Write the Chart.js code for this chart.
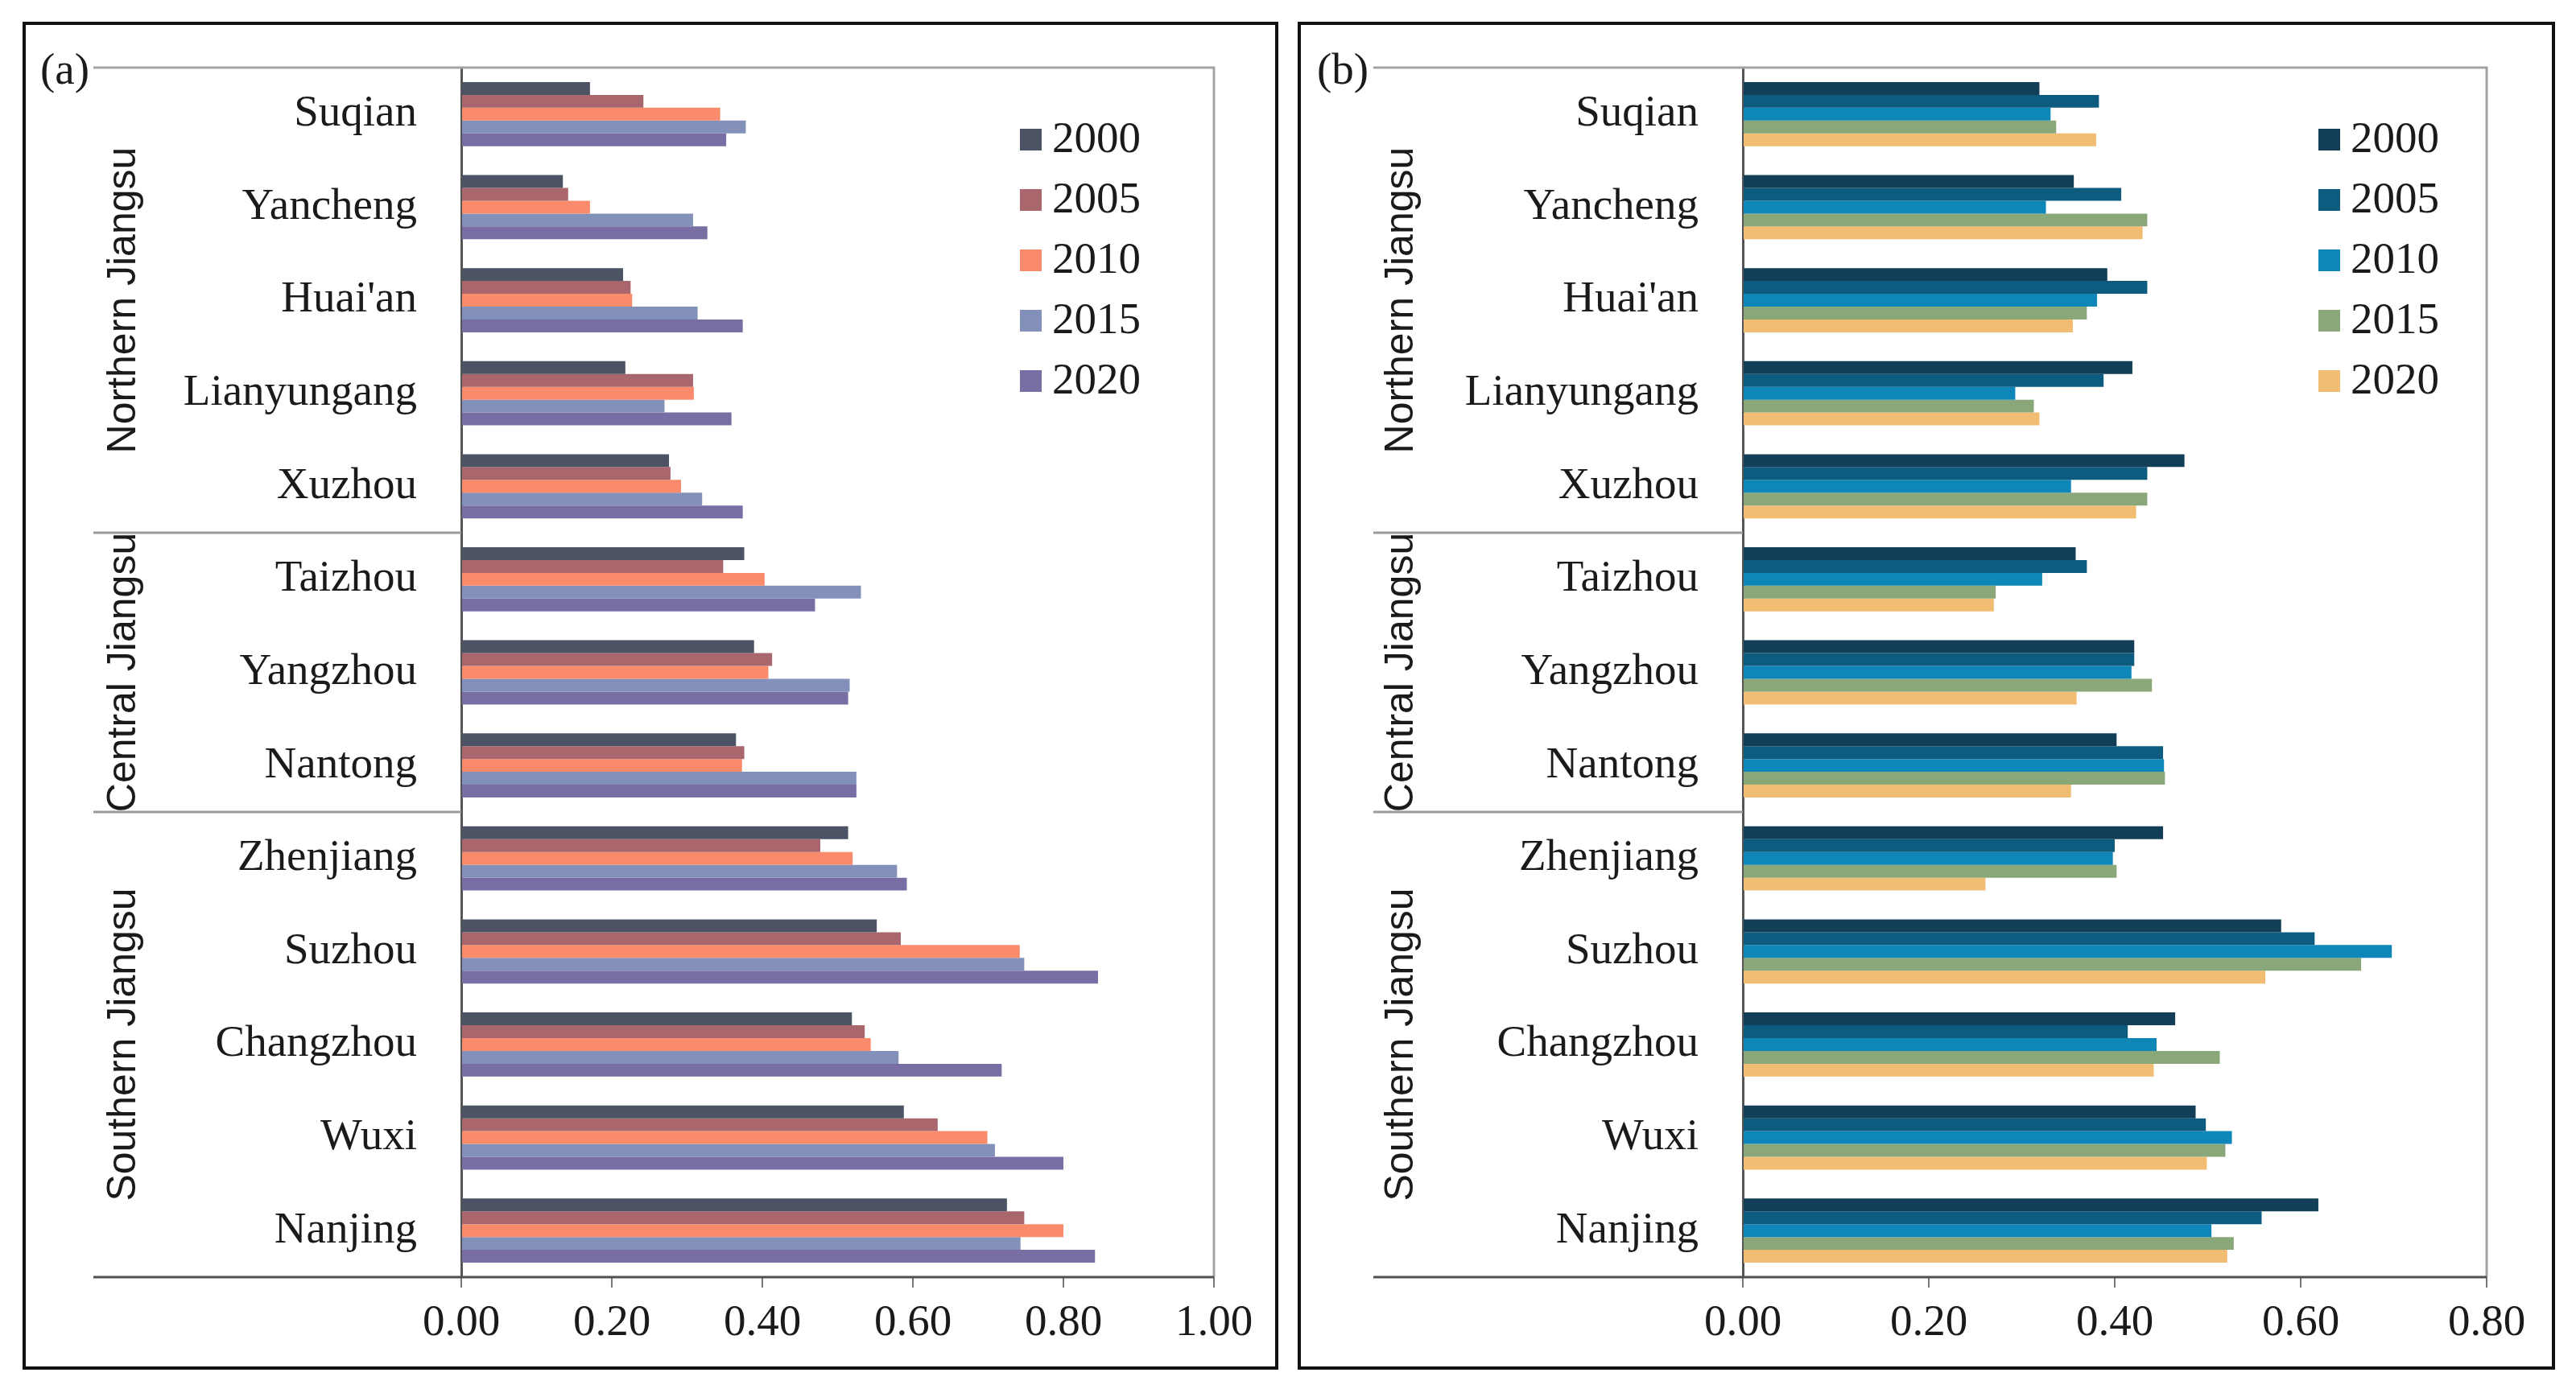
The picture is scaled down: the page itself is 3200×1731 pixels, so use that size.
<!DOCTYPE html>
<html lang="en">
<head>
  <meta charset="UTF-8">
  <title>Jiangsu cities</title>
  <script src="https://cdn.jsdelivr.net/npm/chart.js"></script>
  <style>
    html, body { margin: 0; padding: 0; background: #fff; }
    body { width: 3200px; height: 1731px; position: relative; overflow: hidden; }
    .panel { position: absolute; border: 4px solid #111; box-sizing: border-box; background: #fff; overflow: hidden; }
    #panelA { left: 28px; top: 27px; width: 1560px; height: 1675px; }
    #panelB { left: 1612px; top: 27px; width: 1562px; height: 1675px; }
    .panel canvas { display: block; }
  </style>
</head>
<body>
  <div class="panel" id="panelA"><canvas id="chartA"></canvas></div>
  <div class="panel" id="panelB"><canvas id="chartB"></canvas></div>

<script>
// categories, top to bottom
const cities = ['Suqian', 'Yancheng', "Huai'an", 'Lianyungang', 'Xuzhou',
  'Taizhou', 'Yangzhou', 'Nantong',
  'Zhenjiang', 'Suzhou', 'Changzhou', 'Wuxi', 'Nanjing'];
const years = ['2000', '2005', '2010', '2015', '2020'];
const regions = ['Northern Jiangsu', 'Central Jiangsu', 'Southern Jiangsu'];
const regionSizes = [5, 3, 5];

// panel (a)
const a2000 = [0.171, 0.135, 0.215, 0.218, 0.276, 0.376, 0.389, 0.365, 0.514, 0.552, 0.519, 0.588, 0.725];
const a2005 = [0.242, 0.142, 0.225, 0.308, 0.278, 0.348, 0.413, 0.376, 0.477, 0.584, 0.536, 0.633, 0.748];
const a2010 = [0.344, 0.171, 0.227, 0.309, 0.292, 0.403, 0.408, 0.373, 0.520, 0.742, 0.544, 0.699, 0.800];
const a2015 = [0.378, 0.308, 0.314, 0.270, 0.320, 0.531, 0.516, 0.525, 0.579, 0.748, 0.581, 0.709, 0.743];
const a2020 = [0.352, 0.327, 0.374, 0.359, 0.374, 0.470, 0.514, 0.525, 0.592, 0.846, 0.718, 0.800, 0.842];

// panel (b)
const b2000 = [0.319, 0.356, 0.392, 0.419, 0.475, 0.358, 0.421, 0.402, 0.452, 0.579, 0.465, 0.487, 0.619];
const b2005 = [0.383, 0.407, 0.435, 0.388, 0.435, 0.370, 0.421, 0.452, 0.400, 0.615, 0.414, 0.498, 0.558];
const b2010 = [0.331, 0.326, 0.381, 0.293, 0.353, 0.322, 0.418, 0.453, 0.398, 0.698, 0.445, 0.526, 0.504];
const b2015 = [0.337, 0.435, 0.370, 0.313, 0.435, 0.272, 0.440, 0.454, 0.402, 0.665, 0.513, 0.519, 0.528];
const b2020 = [0.380, 0.430, 0.355, 0.319, 0.423, 0.270, 0.359, 0.353, 0.261, 0.562, 0.442, 0.499, 0.521];

// x axis ticks
const xMaxA = 1.0;
const xMaxB = 0.8;
const xStep = 0.2;

const colorsA = ['#4b5364', '#a9666c', '#f98b6c', '#8390b9', '#786ea3'];
const colorsB = ['#123f57', '#0d5b7e', '#0e86b8', '#8aa77a', '#f1bd72'];

const SERIF = '"Liberation Serif", "Times New Roman", serif';
const SANS = '"Liberation Sans", Arial, sans-serif';
const TEXT = '#1a1a1a';

// draws frame lines, region dividers, region names, panel letter and legend
const decorPlugin = {
  id: 'decor',
  afterDraw(chart, args, opts) {
    const ctx = chart.ctx;
    const ca = chart.chartArea;
    const y = chart.scales.y;
    ctx.save();

    // top line + right border
    ctx.strokeStyle = '#a3a3a3';
    ctx.lineWidth = 3;
    ctx.beginPath();
    ctx.moveTo(opts.lineStart, ca.top);
    ctx.lineTo(ca.right, ca.top);
    ctx.lineTo(ca.right, ca.bottom);
    ctx.stroke();

    // bottom axis line, longer than the plot
    ctx.strokeStyle = '#505050';
    ctx.beginPath();
    ctx.moveTo(opts.lineStart, ca.bottom);
    ctx.lineTo(ca.right, ca.bottom);
    ctx.stroke();

    // region boundaries
    const edges = [ca.top];
    let idx = 0;
    regionSizes.forEach((n, i) => {
      idx += n;
      if (i < regionSizes.length - 1) {
        edges.push((y.getPixelForValue(idx - 1) + y.getPixelForValue(idx)) / 2);
      }
    });
    edges.push(ca.bottom);

    ctx.strokeStyle = '#9a9a9a';
    ctx.lineWidth = 3;
    for (let i = 1; i < edges.length - 1; i++) {
      ctx.beginPath();
      ctx.moveTo(opts.lineStart, edges[i]);
      ctx.lineTo(ca.left, edges[i]);
      ctx.stroke();
    }

    // region names, rotated
    ctx.fillStyle = TEXT;
    ctx.font = '50px ' + SANS;
    ctx.textAlign = 'center';
    ctx.textBaseline = 'middle';
    regions.forEach((name, i) => {
      const cy = (edges[i] + edges[i + 1]) / 2;
      ctx.save();
      ctx.translate(opts.regionX, cy);
      ctx.rotate(-Math.PI / 2);
      ctx.fillText(name, 0, 0);
      ctx.restore();
    });

    // panel letter
    ctx.font = '55px ' + SERIF;
    ctx.textAlign = 'left';
    ctx.fillText(opts.label, opts.labelX, ca.top + 6);

    // legend
    chart.data.datasets.forEach((ds, i) => {
      const cy = opts.legendY + i * opts.legendStep;
      ctx.fillStyle = ds.backgroundColor;
      ctx.fillRect(opts.legendX, cy - 13, 27, 27);
      ctx.fillStyle = TEXT;
      ctx.fillText(ds.label, opts.legendX + 40, cy + 2);
    });

    ctx.restore();
  }
};

function makeChart(canvasId, series, colors, xMax, decor, yWidth, padRight) {
  const ctx = document.getElementById(canvasId).getContext('2d');
  return new Chart(ctx, {
    type: 'bar',
    data: {
      labels: cities,
      datasets: series.map((vals, i) => ({
        label: years[i],
        data: vals,
        backgroundColor: colors[i],
        borderWidth: 0,
        categoryPercentage: 0.69,
        barPercentage: 1.0
      }))
    },
    options: {
      indexAxis: 'y',
      responsive: true,
      maintainAspectRatio: false,
      animation: false,
      layout: {
        autoPadding: false,
        padding: { top: 53, right: padRight, left: 0, bottom: 0 }
      },
      plugins: {
        legend: { display: false },
        tooltip: { enabled: false },
        decor: decor
      },
      scales: {
        x: {
          min: 0,
          max: xMax,
          afterFit: (scale) => {
            scale.height = 111;
            scale.paddingLeft = 0;
            scale.paddingRight = 0;
          },
          ticks: {
            stepSize: xStep,
            padding: 12,
            color: TEXT,
            font: { family: SERIF, size: 55 },
            callback: (v) => Number(v).toFixed(2)
          },
          grid: {
            display: true,
            drawOnChartArea: false,
            drawTicks: true,
            tickLength: 13,
            color: '#777',
            lineWidth: 2
          },
          border: { display: false }
        },
        y: {
          // fixed label column, no extra room above/below the plot
          afterFit: (scale) => {
            scale.width = yWidth;
            scale.paddingTop = 0;
            scale.paddingBottom = 0;
          },
          ticks: {
            autoSkip: false,
            padding: 47,
            color: TEXT,
            font: { family: SERIF, size: 55 }
          },
          grid: { display: false },
          border: { display: true, color: '#555', width: 3 }
        }
      }
    },
    plugins: [decorPlugin]
  });
}

makeChart('chartA', [a2000, a2005, a2010, a2015, a2020], colorsA, xMaxA,
  { label: '(a)', labelX: 18, lineStart: 84, regionX: 122, legendX: 1235, legendY: 142, legendStep: 75 },
  541, 76);

makeChart('chartB', [b2000, b2005, b2010, b2015, b2020], colorsB, xMaxB,
  { label: '(b)', labelX: 20, lineStart: 90, regionX: 125, legendX: 1264, legendY: 142, legendStep: 75 },
  549, 81);
</script>
</body>
</html>
